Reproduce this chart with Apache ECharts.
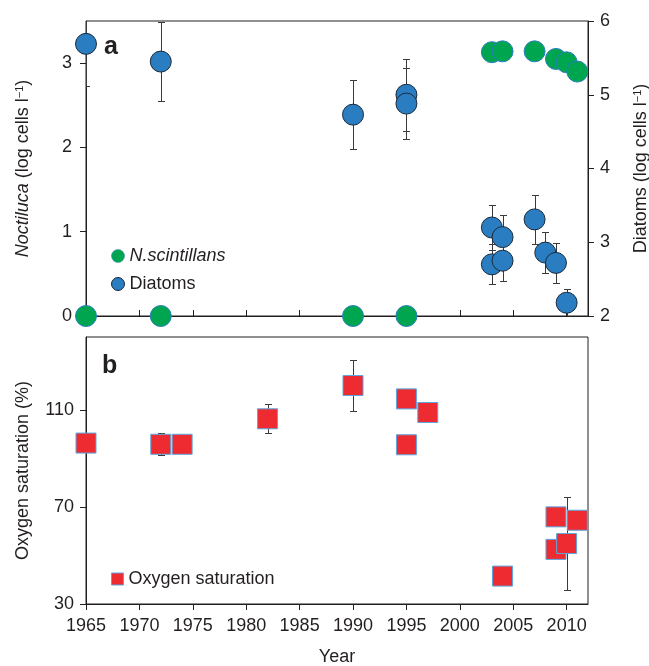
<!DOCTYPE html>
<html><head><meta charset="utf-8">
<script src="https://cdn.jsdelivr.net/npm/echarts@6/dist/echarts.min.js"></script>
<style>html,body{margin:0;padding:0;background:#fff}#c{width:649px;height:666px}</style>
</head><body><div id="c"></div>
<script>
// ---- data ----
const yearTicks = [1965, 1970, 1975, 1980, 1985, 1990, 1995, 2000, 2005, 2010];
const noctTicks = [0, 1, 2, 3];
const oxyTicks = [30, 70, 110];

const noctYears  = [1965, 1972, 1990, 1995, 2003, 2004, 2007, 2009, 2010, 2011];
const noctValues = [0, 0, 0, 0, 3.13, 3.14, 3.14, 3.05, 3.01, 2.90];

const diatomYears  = [1965, 1972, 1990, 1995, 1995, 2003, 2003, 2004, 2004, 2007, 2008, 2009, 2010];
const diatomValues = [5.69, 5.45, 4.73, 5.00, 4.88, 3.20, 2.70, 3.07, 2.75, 3.31, 2.86, 2.72, 2.18];
const diatomErrors = [0.57, 0.54, 0.47, 0.49, 0.48, 0.31, 0.27, 0.30, 0.28, 0.33, 0.28, 0.27, 0.19];

const oxyYears  = [1965, 1972, 1974, 1982, 1990, 1995, 1995, 1997, 2004, 2009, 2009, 2010, 2011];
const oxyValues = [96.3, 95.8, 95.8, 106.3, 120.0, 114.5, 95.6, 108.9, 41.5, 65.9, 52.5, 54.9, 64.5];
const oxyErrors = [0, 4.6, 0, 5.9, 10.5, 0, 0, 0, 0, 0, 0, 19.0, 0];

// ---- styles ----
const FONT = "'Liberation Sans', Arial, sans-serif";
const INK = '#231f20';
const BLUE = '#2a7dc1';
const GREEN = '#00a550';
const RED = '#ee2b30';

const noctData = noctYears.map((y, i) => [y, noctValues[i]]);
const diatomData = diatomYears.map((y, i) => [y, diatomValues[i]]);
const diatomErrData = diatomYears.map((y, i) => [y, diatomValues[i], diatomErrors[i]]).filter(d => d[2] > 0);
const oxyData = oxyYears.map((y, i) => [y, oxyValues[i]]);
const oxyErrData = oxyYears.map((y, i) => [y, oxyValues[i], oxyErrors[i]]).filter(d => d[2] > 0);

function errorBars(params, api) {
  const x = api.value(0), v = api.value(1), e = api.value(2);
  const t = api.coord([x, v + e]);
  const b = api.coord([x, v - e]);
  const cx = Math.round(t[0]) + 0.5;
  const ty = Math.round(t[1]) + 0.5, by = Math.round(b[1]) + 0.5;
  const w = 3.5;
  const st = { stroke: '#3a3a3a', lineWidth: 1 };
  return { type: 'group', children: [
    { type: 'line', shape: { x1: cx, y1: ty, x2: cx, y2: by }, style: st },
    { type: 'line', shape: { x1: cx - w, y1: ty, x2: cx + w, y2: ty }, style: st },
    { type: 'line', shape: { x1: cx - w, y1: by, x2: cx + w, y2: by }, style: st }
  ]};
}

const axisLine = { show: true, lineStyle: { color: INK, width: 1 } };
const labelStyle = { color: INK, fontSize: 18, fontFamily: FONT };
const nameStyle = {
  color: INK, fontSize: 18, fontFamily: FONT,
  rich: {
    i: { fontStyle: 'italic', fontSize: 18, fontFamily: FONT, color: INK },
    s: { fontSize: 11, fontFamily: FONT, color: INK, verticalAlign: 'top', lineHeight: 14 }
  }
};

const chart = echarts.init(document.getElementById('c'), null, { renderer: 'canvas' });
chart.setOption({
  animation: false,
  backgroundColor: '#fff',
  textStyle: { fontFamily: FONT },
  grid: [
    { left: 86, top: 21, width: 502, height: 295, show: true, borderColor: INK, borderWidth: 1,
      backgroundColor: 'transparent', containLabel: false, outerBoundsMode: 'none' },
    { left: 86, top: 337, width: 502, height: 267, show: true, borderColor: INK, borderWidth: 1,
      backgroundColor: 'transparent', containLabel: false, outerBoundsMode: 'none' }
  ],
  xAxis: [
    { gridIndex: 0, type: 'value', min: 1965, max: 2012, axisLine,
      axisTick: { show: true, inside: true, length: 6, lineStyle: { color: INK }, customValues: yearTicks },
      axisLabel: { show: false }, splitLine: { show: false } },
    { gridIndex: 1, type: 'value', min: 1965, max: 2012, axisLine,
      axisTick: { show: true, inside: false, length: 6, lineStyle: { color: INK }, customValues: yearTicks },
      axisLabel: Object.assign({ margin: 13, customValues: yearTicks, formatter: v => String(v) }, labelStyle),
      splitLine: { show: false },
      name: 'Year', nameLocation: 'middle', nameGap: 44, nameTextStyle: nameStyle }
  ],
  yAxis: [
    { gridIndex: 0, type: 'value', position: 'left', min: 0, max: 3.5, axisLine,
      axisTick: { show: true, length: 6, lineStyle: { color: INK }, customValues: noctTicks },
      axisLabel: Object.assign({ margin: 14, customValues: noctTicks }, labelStyle),
      splitLine: { show: false },
      name: '{i|Noctiluca} (log cells l{s|\u22121})', nameLocation: 'middle', nameRotate: 90, nameGap: 54,
      nameTextStyle: nameStyle },
    { gridIndex: 0, type: 'value', position: 'right', min: 2, max: 6, interval: 1, axisLine,
      axisTick: { show: true, length: 6, lineStyle: { color: INK } },
      axisLabel: Object.assign({ margin: 12 }, labelStyle),
      splitLine: { show: false },
      name: 'Diatoms (log cells l{s|\u22121})', nameLocation: 'middle', nameRotate: 90, nameGap: 44,
      nameTextStyle: nameStyle },
    { gridIndex: 1, type: 'value', position: 'left', min: 30, max: 140, axisLine,
      axisTick: { show: true, length: 6, lineStyle: { color: INK }, customValues: oxyTicks },
      axisLabel: Object.assign({ margin: 12, customValues: oxyTicks }, labelStyle),
      splitLine: { show: false },
      name: 'Oxygen saturation (%)', nameLocation: 'middle', nameRotate: 90, nameGap: 54,
      nameTextStyle: nameStyle }
  ],
  legend: [
    { left: 106, top: 242, orient: 'vertical', itemWidth: 13, itemHeight: 13, itemGap: 10,
      textStyle: { color: INK, fontSize: 18, fontFamily: FONT },
      data: [
        { name: 'N.scintillans', icon: 'circle', textStyle: { fontStyle: 'italic' }, itemStyle: { borderWidth: 0.5 } },
        { name: 'Diatoms', icon: 'circle', itemStyle: { borderWidth: 1 } }
      ] },
    { left: 106, top: 565, orient: 'vertical', itemWidth: 12, itemHeight: 12,
      textStyle: { color: INK, fontSize: 18, fontFamily: FONT },
      data: [{ name: 'Oxygen saturation', icon: 'rect', itemStyle: { borderWidth: 1 } }] }
  ],
  graphic: [
    { type: 'text', left: 104, top: 35, style: { text: 'a', fontSize: 25, fontWeight: 'bold', fontFamily: FONT, fill: INK } },
    { type: 'text', left: 102, top: 354, style: { text: 'b', fontSize: 25, fontWeight: 'bold', fontFamily: FONT, fill: INK } }
  ],
  series: [
    { name: 'diatomErr', type: 'custom', xAxisIndex: 0, yAxisIndex: 1, renderItem: errorBars, clip: true,
      encode: { x: 0, y: 1 }, data: diatomErrData, z: 2, silent: true },
    { name: 'N.scintillans', type: 'scatter', xAxisIndex: 0, yAxisIndex: 0, symbol: 'circle', symbolSize: 21,
      itemStyle: { color: GREEN, borderColor: BLUE, borderWidth: 1, opacity: 1 }, data: noctData, z: 3 },
    { name: 'Diatoms', type: 'scatter', xAxisIndex: 0, yAxisIndex: 1, symbol: 'circle', symbolSize: 21,
      itemStyle: { color: BLUE, borderColor: '#1b2a3a', borderWidth: 1, opacity: 1 }, data: diatomData, z: 4 },
    { name: 'oxyErr', type: 'custom', xAxisIndex: 1, yAxisIndex: 2, renderItem: errorBars, clip: true,
      encode: { x: 0, y: 1 }, data: oxyErrData, z: 2, silent: true },
    { name: 'Oxygen saturation', type: 'scatter', xAxisIndex: 1, yAxisIndex: 2, symbol: 'rect', symbolSize: 20,
      itemStyle: { color: RED, borderColor: '#5aa7e0', borderWidth: 1, opacity: 1 }, data: oxyData, z: 4 }
  ]
});
</script>
</body></html>
